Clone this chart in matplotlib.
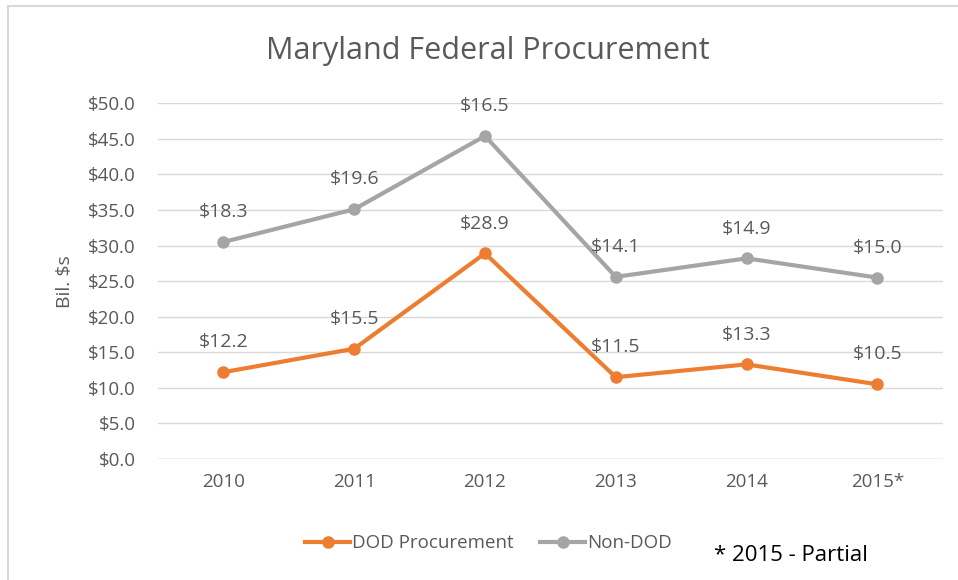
import matplotlib.pyplot as plt
import matplotlib.lines as mlines

years = ['2010', '2011', '2012', '2013', '2014', '2015*']
dod = [12.2, 15.5, 28.9, 11.5, 13.3, 10.5]
non_dod = [18.3, 19.6, 16.5, 14.1, 14.9, 15.0]

plt.rcParams['font.family'] = ['Open Sans', 'DejaVu Sans']
orange = '#ED7D31'
gray = '#A5A5A5'
txt = '#595959'

fig = plt.figure(figsize=(9.58, 5.8), dpi=100)
ax = fig.add_axes([0.165, 0.2086, 0.819, 0.6134])

x = list(range(len(years)))
stacked = [d + n for d, n in zip(dod, non_dod)]

ax.plot(x, dod, color=orange, lw=3, marker='o', ms=8, zorder=3)
ax.plot(x, stacked, color=gray, lw=3, marker='o', ms=8, zorder=3)

for xi, yv, lab in zip(x, dod, dod):
    ax.annotate(f'${lab:.1f}', (xi, yv), xytext=(0, 15), textcoords='offset points',
                ha='center', va='bottom', fontsize=14, color=txt)
for xi, yv, lab in zip(x, stacked, non_dod):
    ax.annotate(f'${lab:.1f}', (xi, yv), xytext=(0, 15), textcoords='offset points',
                ha='center', va='bottom', fontsize=14, color=txt)

ax.set_xlim(-0.5, len(years) - 0.5)
ax.set_ylim(0, 50)
ax.set_yticks([i * 5 for i in range(11)])
ax.set_yticklabels([f'${i * 5:.1f}' for i in range(11)])
ax.set_xticks(x)
ax.set_xticklabels(years)
ax.tick_params(length=0, labelsize=13.5, colors=txt, pad=10)
ax.tick_params(axis='y', pad=16)
ax.grid(axis='y', color='#D9D9D9', lw=1)
ax.set_axisbelow(True)
for s in ax.spines.values():
    s.set_visible(False)
ax.axhline(0, color='#D9D9D9', lw=1, zorder=1)
ax.set_ylabel('Bil. $s', fontsize=14, color=txt, labelpad=10)

fig.text(0.509, 0.912, 'Maryland Federal Procurement', ha='center', va='center',
         fontsize=22, color=txt)

h1 = mlines.Line2D([], [], color=orange, lw=3, marker='o', ms=8)
h2 = mlines.Line2D([], [], color=gray, lw=3, marker='o', ms=8)
fig.legend([h1, h2], ['DOD Procurement', 'Non-DOD'], loc='center',
           bbox_to_anchor=(0.51, 0.063), ncol=2, frameon=False, fontsize=13.5,
           labelcolor=txt, handlelength=2.4, handletextpad=0.1, columnspacing=1.4)
fig.text(0.745, 0.043, '* 2015 - Partial', ha='left', va='center', fontsize=16, color='black')

# outer chart border
fig.add_artist(mlines.Line2D([0.008, 0.008], [0, 0.99], color='#D9D9D9', lw=1.5,
                             transform=fig.transFigure))
fig.add_artist(mlines.Line2D([0.008, 1], [0.99, 0.99], color='#D9D9D9', lw=1.5,
                             transform=fig.transFigure))

fig.savefig('out.png', dpi=100)
